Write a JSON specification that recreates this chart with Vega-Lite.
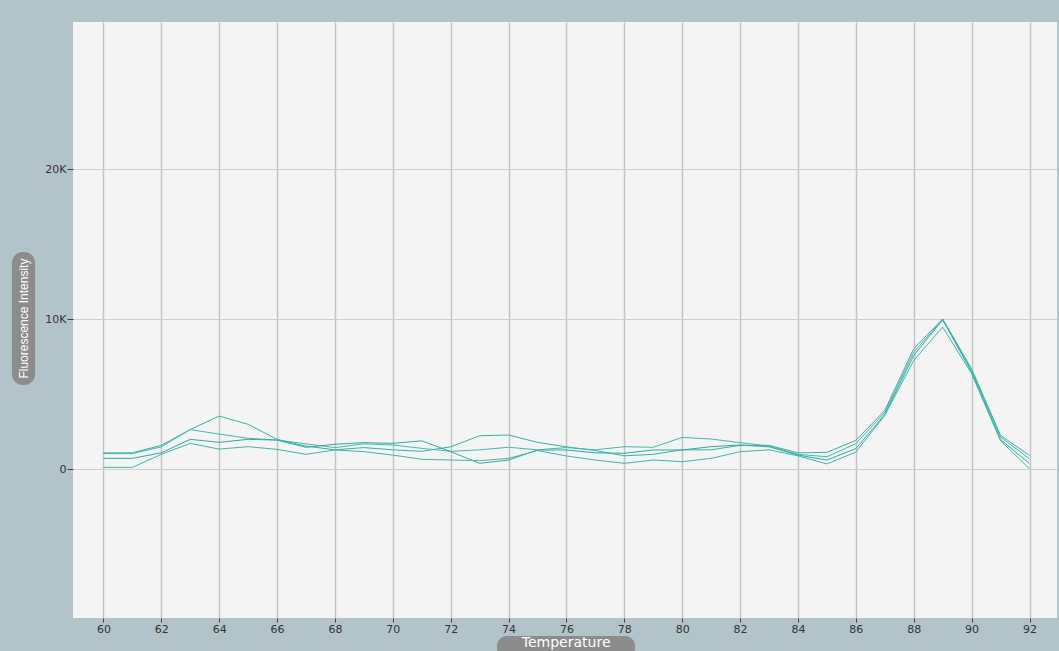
{
  "$schema": "https://vega.github.io/schema/vega-lite/v6.json",
  "width": 984,
  "height": 596,
  "autosize": {"type": "none"},
  "padding": {"left": 73, "top": 22, "right": 2, "bottom": 33},
  "background": "#b3c3ca",
  "config": {
    "view": {"fill": "#f4f4f4", "stroke": null},
    "axis": {"labelFont": "DejaVu Sans", "labelFontSize": 11, "labelColor": "#333333", "domain": false, "title": null}
  },
  "datasets": {
    "curves": [
      {"t": 60, "s": "A", "v": 1100}, {"t": 61, "s": "A", "v": 1100}, {"t": 62, "s": "A", "v": 1600}, {"t": 63, "s": "A", "v": 2650}, {"t": 64, "s": "A", "v": 3550}, {"t": 65, "s": "A", "v": 3000}, {"t": 66, "s": "A", "v": 2000}, {"t": 67, "s": "A", "v": 1550}, {"t": 68, "s": "A", "v": 1300}, {"t": 69, "s": "A", "v": 1450}, {"t": 70, "s": "A", "v": 1300}, {"t": 71, "s": "A", "v": 1200}, {"t": 72, "s": "A", "v": 1500}, {"t": 73, "s": "A", "v": 2240}, {"t": 74, "s": "A", "v": 2290}, {"t": 75, "s": "A", "v": 1800}, {"t": 76, "s": "A", "v": 1500}, {"t": 77, "s": "A", "v": 1250}, {"t": 78, "s": "A", "v": 900}, {"t": 79, "s": "A", "v": 1000}, {"t": 80, "s": "A", "v": 1300}, {"t": 81, "s": "A", "v": 1300}, {"t": 82, "s": "A", "v": 1600}, {"t": 83, "s": "A", "v": 1600}, {"t": 84, "s": "A", "v": 1100}, {"t": 85, "s": "A", "v": 1130}, {"t": 86, "s": "A", "v": 1930}, {"t": 87, "s": "A", "v": 3930}, {"t": 88, "s": "A", "v": 8040}, {"t": 89, "s": "A", "v": 10030}, {"t": 90, "s": "A", "v": 6700}, {"t": 91, "s": "A", "v": 2260}, {"t": 92, "s": "A", "v": 930},
      {"t": 60, "s": "B", "v": 1050}, {"t": 61, "s": "B", "v": 1050}, {"t": 62, "s": "B", "v": 1500}, {"t": 63, "s": "B", "v": 2650}, {"t": 64, "s": "B", "v": 2350}, {"t": 65, "s": "B", "v": 2070}, {"t": 66, "s": "B", "v": 1950}, {"t": 67, "s": "B", "v": 1700}, {"t": 68, "s": "B", "v": 1450}, {"t": 69, "s": "B", "v": 1700}, {"t": 70, "s": "B", "v": 1620}, {"t": 71, "s": "B", "v": 1400}, {"t": 72, "s": "B", "v": 1200}, {"t": 73, "s": "B", "v": 1300}, {"t": 74, "s": "B", "v": 1470}, {"t": 75, "s": "B", "v": 1300}, {"t": 76, "s": "B", "v": 1450}, {"t": 77, "s": "B", "v": 1300}, {"t": 78, "s": "B", "v": 1510}, {"t": 79, "s": "B", "v": 1470}, {"t": 80, "s": "B", "v": 2130}, {"t": 81, "s": "B", "v": 2020}, {"t": 82, "s": "B", "v": 1780}, {"t": 83, "s": "B", "v": 1550}, {"t": 84, "s": "B", "v": 1000}, {"t": 85, "s": "B", "v": 840}, {"t": 86, "s": "B", "v": 1710}, {"t": 87, "s": "B", "v": 3800}, {"t": 88, "s": "B", "v": 7810}, {"t": 89, "s": "B", "v": 10000}, {"t": 90, "s": "B", "v": 6590}, {"t": 91, "s": "B", "v": 2150}, {"t": 92, "s": "B", "v": 710},
      {"t": 60, "s": "C", "v": 730}, {"t": 61, "s": "C", "v": 730}, {"t": 62, "s": "C", "v": 1100}, {"t": 63, "s": "C", "v": 2000}, {"t": 64, "s": "C", "v": 1800}, {"t": 65, "s": "C", "v": 2000}, {"t": 66, "s": "C", "v": 1950}, {"t": 67, "s": "C", "v": 1470}, {"t": 68, "s": "C", "v": 1670}, {"t": 69, "s": "C", "v": 1780}, {"t": 70, "s": "C", "v": 1730}, {"t": 71, "s": "C", "v": 1900}, {"t": 72, "s": "C", "v": 1180}, {"t": 73, "s": "C", "v": 400}, {"t": 74, "s": "C", "v": 620}, {"t": 75, "s": "C", "v": 1290}, {"t": 76, "s": "C", "v": 1290}, {"t": 77, "s": "C", "v": 1100}, {"t": 78, "s": "C", "v": 1070}, {"t": 79, "s": "C", "v": 1290}, {"t": 80, "s": "C", "v": 1290}, {"t": 81, "s": "C", "v": 1510}, {"t": 82, "s": "C", "v": 1620}, {"t": 83, "s": "C", "v": 1500}, {"t": 84, "s": "C", "v": 950}, {"t": 85, "s": "C", "v": 620}, {"t": 86, "s": "C", "v": 1380}, {"t": 87, "s": "C", "v": 3660}, {"t": 88, "s": "C", "v": 7590}, {"t": 89, "s": "C", "v": 9970}, {"t": 90, "s": "C", "v": 6480}, {"t": 91, "s": "C", "v": 1980}, {"t": 92, "s": "C", "v": 380},
      {"t": 60, "s": "D", "v": 130}, {"t": 61, "s": "D", "v": 130}, {"t": 62, "s": "D", "v": 1000}, {"t": 63, "s": "D", "v": 1730}, {"t": 64, "s": "D", "v": 1350}, {"t": 65, "s": "D", "v": 1510}, {"t": 66, "s": "D", "v": 1330}, {"t": 67, "s": "D", "v": 1000}, {"t": 68, "s": "D", "v": 1290}, {"t": 69, "s": "D", "v": 1180}, {"t": 70, "s": "D", "v": 950}, {"t": 71, "s": "D", "v": 670}, {"t": 72, "s": "D", "v": 620}, {"t": 73, "s": "D", "v": 580}, {"t": 74, "s": "D", "v": 730}, {"t": 75, "s": "D", "v": 1250}, {"t": 76, "s": "D", "v": 890}, {"t": 77, "s": "D", "v": 620}, {"t": 78, "s": "D", "v": 400}, {"t": 79, "s": "D", "v": 620}, {"t": 80, "s": "D", "v": 510}, {"t": 81, "s": "D", "v": 730}, {"t": 82, "s": "D", "v": 1180}, {"t": 83, "s": "D", "v": 1300}, {"t": 84, "s": "D", "v": 900}, {"t": 85, "s": "D", "v": 360}, {"t": 86, "s": "D", "v": 1150}, {"t": 87, "s": "D", "v": 3600}, {"t": 88, "s": "D", "v": 7260}, {"t": 89, "s": "D", "v": 9480}, {"t": 90, "s": "D", "v": 6370}, {"t": 91, "s": "D", "v": 1900}, {"t": 92, "s": "D", "v": 40}
    ],
    "xTitle": [{"label": "Temperature", "x": 73.6, "x2": 78.37, "y": -11113, "y2": -12600, "xc": 75.99, "yc": -11850}],
    "yTitle": [{"label": "Fluorescence Intensity", "x": 56.84, "x2": 57.64, "y": 14490, "y2": 5620, "xc": 57.27, "yc": 10050}]
  },
  "layer": [
    {
      "data": {"name": "curves"},
      "mark": {"type": "line", "strokeWidth": 1, "interpolate": "linear"},
      "encoding": {
        "x": {
          "field": "t", "type": "quantitative",
          "scale": {"domain": [58.95, 92.95], "nice": false, "zero": false},
          "axis": {
            "values": [60,61,62,63,64,65,66,67,68,69,70,71,72,73,74,75,76,77,78,79,80,81,82,83,84,85,86,87,88,89,90,91,92],
            "labelExpr": "datum.value % 2 === 0 ? datum.label : ''",
            "grid": true, "gridColor": "#c4c4c4", "gridWidth": 1.5,
            "tickColor": {"condition": {"test": "datum.value % 2 === 0", "value": "#444444"}, "value": "transparent"},
            "tickSize": 4, "tickWidth": 1, "labelPadding": 1, "labelFlush": false, "labelOverlap": false
          }
        },
        "y": {
          "field": "v", "type": "quantitative",
          "scale": {"domain": [-9910, 29820], "nice": false, "zero": false},
          "axis": {
            "values": [0, 10000, 20000],
            "labelExpr": "datum.value === 0 ? '0' : (datum.value / 1000) + 'K'",
            "grid": true, "gridColor": "#d0d0d0", "gridWidth": 1,
            "tickColor": "#444444", "tickSize": 6, "labelPadding": 1
          }
        },
        "detail": {"field": "s", "type": "nominal"},
        "color": {"field": "s", "type": "nominal", "legend": null, "scale": {"range": ["#34b3a4", "#3cbcae", "#2fab9c", "#42b6aa"]}}
      }
    },
    {
      "data": {"name": "yTitle"},
      "mark": {"type": "rect", "fill": "#8c8c8c", "cornerRadius": 11},
      "encoding": {
        "x": {"field": "x", "type": "quantitative"},
        "x2": {"field": "x2"},
        "y": {"field": "y", "type": "quantitative"},
        "y2": {"field": "y2"}
      }
    },
    {
      "data": {"name": "yTitle"},
      "mark": {"type": "text", "angle": 270, "color": "#ffffff", "font": "Liberation Sans", "fontSize": 12, "align": "center", "baseline": "middle"},
      "encoding": {
        "x": {"field": "xc", "type": "quantitative"},
        "y": {"field": "yc", "type": "quantitative"},
        "text": {"field": "label"}
      }
    },
    {
      "data": {"name": "xTitle"},
      "mark": {"type": "rect", "fill": "#8c8c8c", "cornerRadius": 10},
      "encoding": {
        "x": {"field": "x", "type": "quantitative"},
        "x2": {"field": "x2"},
        "y": {"field": "y", "type": "quantitative"},
        "y2": {"field": "y2"}
      }
    },
    {
      "data": {"name": "xTitle"},
      "mark": {"type": "text", "color": "#ffffff", "font": "DejaVu Sans", "fontSize": 14, "align": "center", "baseline": "alphabetic"},
      "encoding": {
        "x": {"field": "xc", "type": "quantitative"},
        "y": {"field": "yc", "type": "quantitative"},
        "text": {"field": "label"}
      }
    }
  ]
}
